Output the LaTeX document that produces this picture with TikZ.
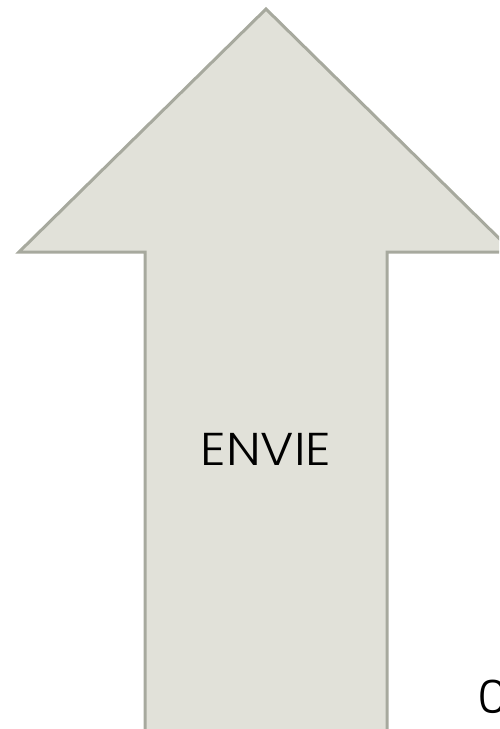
\documentclass[tikz,border=0pt]{standalone}
\usepackage{fontspec}
\setmainfont{Poppins}[UprightFont=* Light,FakeStretch=1.1]
\definecolor{arrowfill}{HTML}{E1E1D9}
\definecolor{arrowline}{HTML}{A7A99E}
\begin{document}
\begin{tikzpicture}[x=1pt,y=-1pt,
  arrowshape/.style={fill=arrowfill,draw=arrowline,line width=3pt,line join=miter},
  lbl/.style={font=\fontsize{46}{50}\selectfont,inner sep=0pt,text=black}]
\useasboundingbox (0,0) rectangle (499,729);
\begin{scope}
\clip (0,0) rectangle (499,729);
\draw[arrowshape] (266,9) -- (513,252) -- (387,252) -- (387,731) -- (145,731) -- (145,252) -- (19,252) -- cycle;
\node[lbl,anchor=base west] (zero) at (477,713) {0};
\end{scope}
\node[lbl,anchor=base] (envie) at (266,465) {ENVIE};
\end{tikzpicture}
\end{document}
